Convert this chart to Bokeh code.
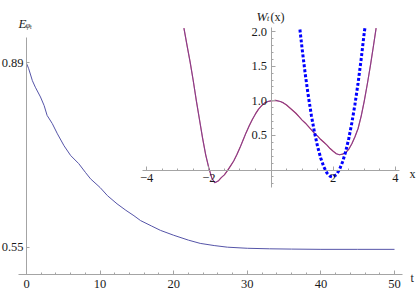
from bokeh.plotting import figure
from bokeh.models import Range1d, LinearAxis, FixedTicker, Label
from bokeh.embed import file_html
from bokeh.resources import INLINE

# ---------------- data ----------------
t_vals = [0, 0.3, 0.8, 1.2, 1.9, 2.4, 2.8, 3.5, 4.2, 5.1, 6.0, 7.1, 8.0, 8.7,
          10.0, 11.0, 12.3, 13.5, 14.6, 15.5, 17.0, 18.2, 20.0, 22.0, 23.6,
          25.5, 27.3, 30.0, 33.0, 36.0, 40.0, 45.0, 50.0]
energy_vals = [0.889, 0.879, 0.857, 0.845, 0.827, 0.811, 0.793, 0.778, 0.759,
               0.737, 0.719, 0.704, 0.688, 0.676, 0.660, 0.645, 0.630, 0.618,
               0.608, 0.599, 0.589, 0.581, 0.572, 0.563, 0.557, 0.553, 0.550,
               0.548, 0.547, 0.5465, 0.546, 0.546, 0.546]

w_x = [-2.80, -2.70, -2.60, -2.50, -2.40, -2.30, -2.20, -2.10, -2.00, -1.90,
       -1.81, -1.70, -1.60, -1.50, -1.40, -1.30, -1.20, -1.10, -1.00, -0.90,
       -0.80, -0.70, -0.60, -0.50, -0.40, -0.30, -0.20, -0.10, 0.00, 0.15,
       0.30, 0.40, 0.50, 0.60, 0.70, 0.80, 0.90, 1.00, 1.10, 1.20, 1.30, 1.40,
       1.50, 1.60, 1.70, 1.80, 1.90, 2.00, 2.10, 2.20, 2.30, 2.40, 2.50, 2.60,
       2.70, 2.80, 2.90, 3.00, 3.10, 3.20, 3.30, 3.38]
w_vals = [2.05, 1.80, 1.56, 1.29, 1.00, 0.73, 0.46, 0.22, 0.03, -0.12,
          -0.185, -0.16, -0.11, -0.07, -0.01, 0.06, 0.13, 0.22, 0.32, 0.43,
          0.54, 0.64, 0.73, 0.81, 0.88, 0.93, 0.97, 0.99, 1.00, 1.005,
          0.99, 0.97, 0.94, 0.90, 0.86, 0.82, 0.77, 0.72, 0.68, 0.63, 0.58, 0.53,
          0.49, 0.44, 0.40, 0.36, 0.31, 0.27, 0.235, 0.22, 0.23, 0.25, 0.30, 0.38,
          0.48, 0.60, 0.78, 1.00, 1.25, 1.52, 1.81, 2.05]

harm_x = [0.93, 1.0, 1.1, 1.2, 1.3, 1.4, 1.5, 1.6, 1.7, 1.8, 1.9, 1.97, 2.0,
          2.1, 2.2, 2.3, 2.4, 2.5, 2.6, 2.7, 2.8, 2.9, 3.0, 3.02]
harm_vals = [2.03, 1.754, 1.391, 1.068, 0.784, 0.540, 0.335, 0.170, 0.044,
             -0.043, -0.090, -0.100, -0.098, -0.067, 0.004, 0.115, 0.264,
             0.453, 0.682, 0.950, 1.257, 1.604, 1.99, 2.05]

main_x_ticks = [0, 10, 20, 30, 40, 50]
main_x_minor = [2, 4, 6, 8, 12, 14, 16, 18, 22, 24, 26, 28, 32, 34, 36, 38,
                42, 44, 46, 48]
main_y_ticks = [0.55, 0.89]
main_y_labels = ["0.55", "0.89"]

inset_x_ticks = [-4, -2, 0, 2, 4]
inset_x_labels = ["\u22124", "\u22122", "", "2", "4"]
inset_x_minor = [-3.5, -3, -2.5, -1.5, -1, -0.5, 0.5, 1, 1.5, 2.5, 3, 3.5]
inset_y_ticks = [0, 0.5, 1.0, 1.5, 2.0]
inset_y_labels = ["", "0.5", "1.0", "1.5", "2.0"]
inset_y_minor = [-0.2, -0.1, 0.1, 0.2, 0.3, 0.4, 0.6, 0.7, 0.8, 0.9, 1.1, 1.2,
                 1.3, 1.4, 1.6, 1.7, 1.8, 1.9]

# ---------------- layout helpers (page pixel -> data) ----------------
W, H = 416, 305
def mx(px):  # main t coordinate
    return (px - 26.0) / 7.36
def my(py):  # main E coordinate
    return 0.89 - (py - 62.3) / 542.3
def ix(px):
    return (px - 270.5) / 31.1
def iy(py):
    return (169.5 - py) / 69.2

p = figure(width=W, height=H, output_backend="svg", toolbar_location=None,
           x_range=Range1d(mx(0), mx(W)), y_range=Range1d(my(H), my(0)),
           x_axis_type=None, y_axis_type=None, min_border=0)
p.min_border_left = p.min_border_right = p.min_border_top = p.min_border_bottom = 0
p.outline_line_color = None
p.background_fill_color = "white"
p.border_fill_color = "white"
p.extra_x_ranges = {"ix": Range1d(ix(0), ix(W))}
p.extra_y_ranges = {"iy": Range1d(iy(H), iy(0))}

AX_COL = "#a4a4a4"
FONT = "'Liberation Serif', 'Times New Roman', serif"
FS = "12.5px"

def style(ax, std):
    ax.axis_line_color = AX_COL
    ax.axis_line_width = 1
    ax.major_tick_line_color = AX_COL
    ax.minor_tick_line_color = AX_COL
    ax.major_tick_out = 0
    ax.minor_tick_out = 0
    ax.major_tick_in = 4
    ax.minor_tick_in = 2
    ax.major_label_text_font = FONT
    ax.major_label_text_font_size = FS
    ax.major_label_text_color = "#1a1a1a"
    ax.major_label_standoff = std

# main axes
ax1 = LinearAxis(fixed_location=my(274), bounds=(mx(18), mx(402)),
                 ticker=FixedTicker(ticks=main_x_ticks, minor_ticks=main_x_minor))
style(ax1, 5)
p.add_layout(ax1, "below")

ay1 = LinearAxis(fixed_location=0, bounds=(my(274), my(37)),
                 ticker=FixedTicker(ticks=main_y_ticks, minor_ticks=[]),
                 major_label_overrides=dict(zip(main_y_ticks, main_y_labels)))
style(ay1, 3)
ay1.major_tick_in = 3
p.add_layout(ay1, "left")

# inset axes
ax2 = LinearAxis(x_range_name="ix", y_range_name="iy", fixed_location=0,
                 bounds=(ix(142), ix(399)),
                 ticker=FixedTicker(ticks=inset_x_ticks, minor_ticks=inset_x_minor),
                 major_label_overrides=dict(zip(inset_x_ticks, inset_x_labels)))
style(ax2, 4)
p.add_layout(ax2, "below")

ay2 = LinearAxis(x_range_name="ix", y_range_name="iy", fixed_location=0,
                 bounds=(iy(187), iy(27)),
                 ticker=FixedTicker(ticks=inset_y_ticks, minor_ticks=inset_y_minor),
                 major_label_overrides=dict(zip(inset_y_ticks, inset_y_labels)))
style(ay2, 4)
p.add_layout(ay2, "left")

# curves
p.line(t_vals, energy_vals, line_color="#5554a8", line_width=1)
p.line(w_x, w_vals, x_range_name="ix", y_range_name="iy",
       line_color="#b0224f", line_width=1.2)
p.line(w_x, w_vals, x_range_name="ix", y_range_name="iy",
       line_color="#5a5ad0", line_width=0.6, line_alpha=0.85)
p.line(harm_x, harm_vals, x_range_name="ix", y_range_name="iy",
       line_color="#0000ff", line_width=3, line_dash="3 2")

# axis titles
def lab(x, y, text, size, italic=True):
    p.add_layout(Label(x=x, y=y, text=text, text_font=FONT,
                       text_font_size=size,
                       text_font_style="italic" if italic else "normal",
                       text_color="#1a1a1a", text_baseline="alphabetic",
                       text_align="left"))

lab(mx(18), my(22.7), "E", "13px")
lab(mx(25), my(24.5), "\u03c6", "9px")
lab(mx(29.5), my(26), "t", "6px")

lab(mx(256), my(16), "W", "13px")
lab(mx(266.5), my(18), "t", "8px")
lab(mx(270), my(16), "(x)", "12px", italic=False)

lab(mx(410), my(277), "t", "12px", italic=False)
lab(mx(409), my(173), "x", "12px", italic=False)

open("out.html", "w").write(file_html(p, INLINE))
